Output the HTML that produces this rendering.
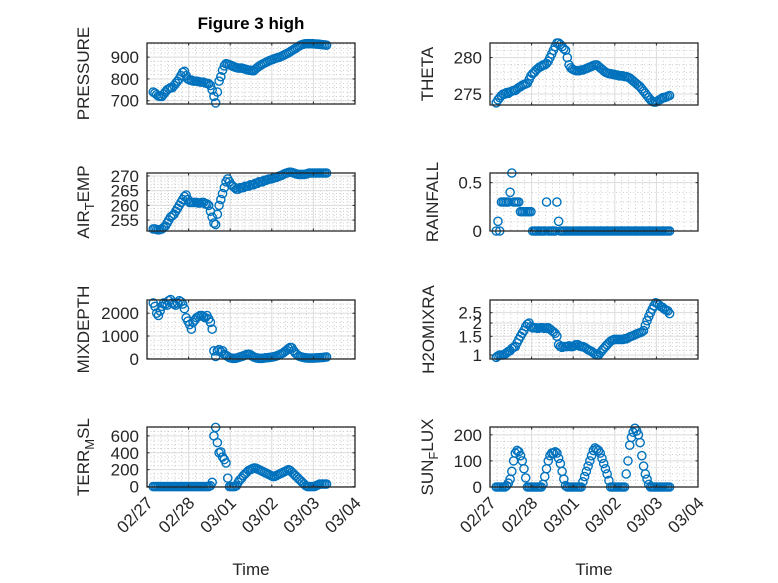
<!DOCTYPE html>
<html><head><meta charset="utf-8"><style>
html,body{margin:0;padding:0;background:#fff;}
svg{display:block;font-family:"Liberation Sans","DejaVu Sans",sans-serif;}
</style></head><body>
<svg id="fig" width="778" height="583" viewBox="0 0 778 583">
<rect width="778" height="583" fill="#fff"/>
<text x="251" y="29" text-anchor="middle" font-size="17" font-weight="bold" fill="#000">Figure 3 high</text>
</svg>
<script>
// ---- data (hourly samples starting 02/27 ~03:40) ----
const startDay = 0.15;      // days after 02/27 00:00
const stepDay = 1/24;
const xTickLabels = ["02/27","02/28","03/01","03/02","03/03","03/04"];

const pressure = [740,735,728,722,720,720, 730,740,750,755,760,760, 770,780,790,800,815,830, 835,815,800,
 795,795,790,790,790,788,786,785,785,782,780,778, 770,750,720, 690,740, 790,810,840,860,870,868,
 865,862,858,855,852,850,850,850,848, 845,843,840,840,838,838, 845,852,858,863,868,872,876,880,
 884,887,890,893,896,898,900, 904,908,912,916,920, 925,930,935,940,945,950,955,958,960,962,962,
 962,962,962,961,960,960,959,958,957,956,955];
const airTemp = [252,252,251.8,251.7,251.8,252,252.5,253,254, 255,256,256.5,257,258,259,260,261,262,263,263.5,
 262,261,261,261,261,261,260.8,260.8,261,261,260.5,260.5,260, 258,256,254,253.5,257, 260,262,264,266,268,269,
 268,267,266.5,266,265.5,265.5,266,266,266, 266.5,266.5,266.5,267,267,267,267.5,267.5,268,268,268,268.5,268.5,268.8,
 269,269,269.2,269.5,269.5,269.8,270,270.2,270.5,270.8,271,271.2,271.3,271.2,
 271,270.8,270.6,270.5,270.5,270.5,270.5,270.6,270.8,271,271,271,271,271,271,271,271,271,271,271];
const mixDepth = [2450,2300,2000,1900,2100,2300,2450,2400,2350,2550,2600, 2450,2400,2350,2450,2550,2500,2400,2200,1800,
 1650,1500,1300,1600,1700,1800,1850,1900,1900,1850,1800,1900,1750,1600,1300, 350,100,350,400,300,350,200,150,100,50,30,
 20,20,30,50,80,100,130,160,190,200,180,120,80, 50,30,20,20,20,30,40,50,60,70,80,100,120,150,180,220,
 260,320,380,450,500,480,350,250,180,120, 90,70,50,40,30,30,30,30,30,40,40,50,50,60,70,80];
const terrMsl = [0,0,0,0,0,0,0,0,0,0,0,0,0,0,0,0,0,0,0,0,0,0,0,0,0,0,0,0,0,0,0,0,0,10,50,
 600,700,520,400,410,350,320,280,100, 0,0,0,0,10, 50,80,100,130,150,170,190,200,210,220,220,210,
 200,190,180,170,160,150,140,130,120,120,130, 140,150,160,170,180,190,200,190,
 170,150,130,110,90,70,50,30,10,0, 0,0,0,0,10,20,30,30,30,30,30];
const theta = [273.8,274.2,274.5,274.8,275,275, 275.2,275.1,275.3,275.4,275.5,275.5, 275.7,275.9,276,276.2,276.3,276.4,276.5,
 277,277.5,277.8,278,278.3,278.5, 278.7,278.8,279,279,279.2,279.5, 280,280.5,281,281.5,282,282,
 281.8,281.5,281.2,281,280,279,278.6, 278.4,278.3,278.2,278.2,278.2,278.3,278.3,278.4,278.5,
 278.6,278.7,278.8,278.9,279,279, 278.8,278.6,278.4,278.2,278,277.9,277.8,277.8, 277.7,277.7,277.6,277.6,277.5,277.5,277.5,
 277.4,277.4,277.3,277.2,277,276.8,276.6,276.4,276.2,276, 275.7,275.4,275.1,274.8,274.5,274.2,274,273.9,273.9,
 274,274.2,274.3,274.5,274.5,274.6,274.7,274.8];
const rainfall = [0,0.1,0,0.3,0.3,0.3,0.3,0.3,0.4,0.6,0.3,0.3,0.3,0.3,0.2,0.2,0.2,0.2,0.2,0.2,0.2,
 0,0,0,0,0,0,0,0,0.3,0,0,0,0,0,0.3,0.1,0,0,0,0,0,0,0,0,0,0,0,0,0,0,0,0,0,0,0,0,0,0,0,0,
 0,0,0,0,0,0,0,0,0,0,0,0,0,0,0,0,0,0,0,0,0,0,0,0,0,0,0,0,0,0,0,0,0,0,0,0,0,0,0,0];
const h2oMix = [0.95,0.98,1.0,1.0,1.0,1.02,1.05, 1.08,1.1,1.15,1.18,1.2,1.3,1.4,1.5, 1.6,1.7,1.85,1.95,2.0,
 1.85,1.8,1.8,1.8,1.78,1.8,1.8,1.8,1.78,1.8,1.8,1.75,1.7,1.65,1.6, 1.5,1.25,1.2,1.18,1.2,1.2,
 1.2,1.22,1.2,1.2,1.22,1.25,1.25,1.22,1.2,1.2,1.18,1.15,1.12,1.1,1.08,1.05,1.02,1.0,
 1.0,1.05,1.1,1.15,1.2,1.25,1.3,1.35,1.38,1.4,1.4,1.4, 1.4,1.4,1.4,1.42,1.42,1.45,1.48,1.5,1.52,1.55,1.58,1.6,1.62,1.65,
 1.7,1.9,2.1,2.3,2.5,2.7,2.9,3.1,3.05,2.95,2.85,2.8,2.7,2.65,2.6,2.45];
const sunFlux = [0,0,0,0,0,0, 5,15,30,60,100,130,140,135,120,100,70,35,0, 0,0,0,0,0,0,0,0,
 10,40,70,100,120,130,130,135,130,110,90,60,30,5,0, 0,0,0,0,0,0,0,0,
 20,40,60,80,100,120,140,150,145,140,130,110,90,70,50,25,0, 0,0,0,0,0,0,0,0,
 50,100,160,190,210,225,215,200,170,120,80,50,30,10,0, 0,0,0,0,0,0,0,0,0,0,0];

const pressureTicks = [700,800,900];
const airTempTicks = [255,260,265,270];
const mixDepthTicks = [0,1000,2000];
const terrTicks = [0,200,400,600];
const thetaTicks = [275,280];
const rainTicks = [0,0.5];
const h2oTicks = [1,1.5,2,2.5];
const sunTicks = [0,100,200];

// ---- drawing ----
const NS = "http://www.w3.org/2000/svg";
const svg = document.getElementById('fig');
function mk(tag, attrs, parent){ const e=document.createElementNS(NS,tag); for(const k in attrs) e.setAttribute(k,attrs[k]); (parent||svg).appendChild(e); return e; }

const panels = [
 {name:'pressure', x0:147, y0:43, y1:104, lo:685, hi:965, ticks:pressureTicks, data:pressure, minor:5, label:['PRESSURE'], lx:89},
 {name:'air-temp', x0:147, y0:173, y1:231, lo:251.3, hi:271, ticks:airTempTicks, data:airTemp, minor:5, label:['AIR','T','EMP'], lx:89},
 {name:'mixdepth', x0:147, y0:300, y1:359, lo:-10, hi:2580, ticks:mixDepthTicks, data:mixDepth, minor:5, label:['MIXDEPTH'], lx:89, xt:false},
 {name:'terr-msl', x0:147, y0:427, y1:487, lo:-5, hi:705, ticks:terrTicks, data:terrMsl, minor:4, label:['TERR','M','SL'], lx:89, xt:true},
 {name:'theta', x0:490, y0:43, y1:105, lo:273.5, hi:282, ticks:thetaTicks, data:theta, minor:5, label:['THETA'], lx:433},
 {name:'rainfall', x0:490, y0:173, y1:231, lo:0, hi:0.6, ticks:rainTicks, data:rainfall, minor:5, label:['RAINFALL'], lx:438},
 {name:'h2omixra', x0:490, y0:300, y1:359, lo:0.917, hi:3.29, ticks:h2oTicks, data:h2oMix, minor:0, log:true, label:['H2OMIXRA'], lx:434},
 {name:'sun-flux', x0:490, y0:427, y1:487, lo:0, hi:230, ticks:sunTicks, data:sunFlux, minor:4, label:['SUN','F','LUX'], lx:433, xt:true},
];
const W = 208, DAYS = 5;

panels.forEach(p=>{
  const g = mk('g',{});
  
  
  const xs = d => p.x0 + d/DAYS*W;
  const tf = v => p.log ? Math.log(v) : v;
  const ys = v => p.y1 - (tf(v)-tf(p.lo))/(tf(p.hi)-tf(p.lo))*(p.y1-p.y0);
  mk('rect',{x:p.x0,y:p.y0,width:W,height:p.y1-p.y0,fill:'#fff'},g);
  for(let d=0; d<DAYS; d++) for(let k=1;k<6;k++){ const x=xs(d+k/6);
    mk('line',{x1:x,x2:x,y1:p.y0,y2:p.y1,stroke:'#b8b8b8','stroke-width':0.7,'stroke-dasharray':'1,2.5'},g); }
  if(p.minor){ const step=(p.ticks[1]-p.ticks[0])/p.minor;
    for(let v=p.ticks[0]-10*(p.ticks[1]-p.ticks[0]); v<=p.hi; v+=step){ if(v<p.lo) continue; const y=ys(v);
      mk('line',{x1:p.x0,x2:p.x0+W,y1:y,y2:y,stroke:'#b8b8b8','stroke-width':0.7,'stroke-dasharray':'1,2.5'},g);} }
  else { [1.1,1.2,1.3,1.4,1.6,1.7,1.8,1.9,3].forEach(v=>{const y=ys(v);
      mk('line',{x1:p.x0,x2:p.x0+W,y1:y,y2:y,stroke:'#b8b8b8','stroke-width':0.7,'stroke-dasharray':'1,2.5'},g);}); }
  for(let d=1; d<DAYS; d++){ const x=xs(d); mk('line',{x1:x,x2:x,y1:p.y0,y2:p.y1,stroke:'#dcdcdc','stroke-width':1},g); }
  p.ticks.forEach(v=>{ const y=ys(v); mk('line',{x1:p.x0,x2:p.x0+W,y1:y,y2:y,stroke:'#dcdcdc','stroke-width':1},g); });
  const sg = mk('g',{},g);
  
  
  p.data.forEach((v,i)=>{ const d=startDay+i*stepDay;
    const c = mk('circle',{cx:xs(d).toFixed(2),cy:ys(v).toFixed(2),r:4.1,fill:'none',stroke:'#0072BD','stroke-width':1.4},sg);
    
    
  });
  mk('rect',{x:p.x0,y:p.y0,width:W,height:p.y1-p.y0,fill:'none',stroke:'#262626','stroke-width':1.3},g);
  for(let d=0; d<=DAYS; d++){ const x=xs(d);
    mk('line',{x1:x,x2:x,y1:p.y1,y2:p.y1-2.5,stroke:'#262626'},g);
    mk('line',{x1:x,x2:x,y1:p.y0,y2:p.y0+2.5,stroke:'#262626'},g);
    if(p.xt){ const ax=x+7, ay=p.y1+17;
      const t=mk('text',{x:ax,y:ay,'text-anchor':'end','font-size':17,fill:'#262626',transform:`rotate(-45 ${ax} ${ay})`},g);
      t.textContent = xTickLabels[d];
      
       }
  }
  p.ticks.forEach(v=>{ const y=ys(v);
    mk('line',{x1:p.x0,x2:p.x0+2.5,y1:y,y2:y,stroke:'#262626'},g);
    mk('line',{x1:p.x0+W,x2:p.x0+W-2.5,y1:y,y2:y,stroke:'#262626'},g);
    const t=mk('text',{x:p.x0-8,y:y+6,'text-anchor':'end','font-size':17,fill:'#262626'},g);
    t.textContent = String(v);
    
    
  });
  const cy=(p.y0+p.y1)/2;
  const lab = mk('text',{x:p.lx,y:cy,'text-anchor':'middle','font-size':17,fill:'#262626',transform:`rotate(-90 ${p.lx} ${cy})`},g);
  
  
  if(p.label.length===1){ lab.textContent=p.label[0]; }
  else { const a=mk('tspan',{},lab); a.textContent=p.label[0];
    const b=mk('tspan',{dy:5,'font-size':13},lab); b.textContent=p.label[1];
    const c=mk('tspan',{dy:-5},lab); c.textContent=p.label[2]; }
  if(p.xt){ const t=mk('text',{x:p.x0+W/2,y:575,'text-anchor':'middle','font-size':17,fill:'#262626'},g);
    t.textContent='Time';
    
     }
});
</script>
</body></html>
